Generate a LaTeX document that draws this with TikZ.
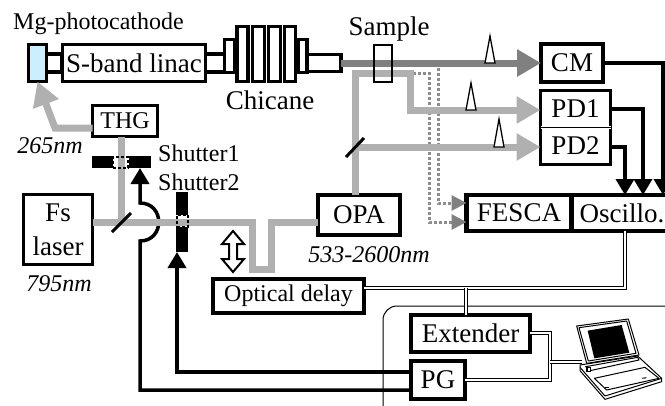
\documentclass[tikz,border=0pt]{standalone}
\usepackage{fontspec}
\setmainfont{Liberation Serif}
\usetikzlibrary{arrows.meta,calc}
\definecolor{lgray}{HTML}{B0B0B0}
\definecolor{dgray}{HTML}{808080}
\definecolor{cathblue}{HTML}{CCEEFF}
\tikzset{
  bx/.style={draw=black,line width=3.5pt,fill=white,inner sep=0pt,outer sep=0pt,align=center,font=\fontsize{27}{34}\selectfont},
  tb/.style={bx,fill=white},
  lbl/.style={inner sep=0pt,font=\fontsize{24}{24}\selectfont},
  lbig/.style={inner sep=0pt,font=\fontsize{27}{27}\selectfont},
  wl/.style={inner sep=0pt,font=\fontsize{24}{24}\selectfont\itshape},
  barb/.style={fill=black,inner sep=0pt,outer sep=0pt},
  lightbeam/.style={draw=lgray,line width=7pt,miter limit=10},
  darkbeam/.style={draw=dgray,line width=7pt},
  lh/.style={-{Triangle[length=24pt,width=26pt]}},
  sig/.style={draw=black,line width=3.5pt,-{Triangle[length=16pt,width=18pt]}},
  dbl/.style={draw=black,line width=1pt,double=white,double distance=1.2pt},
  dot/.style={draw=dgray!90,line width=3pt,dash pattern=on 3pt off 2pt,-{Triangle[length=15pt,width=15pt,color=dgray,fill=dgray]}},
  mirror/.style={draw=black,line width=3pt},
  pulse/.style={draw=black,line width=1.3pt,fill=white},
  win/.style={draw=black,line width=2pt,dash pattern=on 3pt off 2pt},
  lap/.style={draw=black,line width=1pt,fill=white,line join=round},
}
\begin{document}
\begin{tikzpicture}[x=1pt,y=-1pt]
\useasboundingbox (0,0) rectangle (665,405);
\clip (0,0) rectangle (665,405);
% outline of the computer area
\node[draw=black,line width=1pt,rounded corners=14pt,minimum width=320pt,minimum height=130pt,inner sep=0pt] (area) at (543,371) {};
% coordinates
\coordinate (m1) at (121,222);
\coordinate (m2) at (355,147);
\coordinate (top) at (355,73);
\coordinate (turn) at (410,73);
\coordinate (low) at (410,110);
\coordinate (ua) at (252,222);
\coordinate (ub) at (252,269);
\coordinate (uc) at (271,269);
\coordinate (ud) at (271,222);
\coordinate (elb) at (55,128);
\coordinate (c1a) at (140,203);
\coordinate (c1b) at (140,241);
\coordinate (c1c) at (140,390);
\coordinate (c2c) at (177,372);
\coordinate (dA) at (393,73);
\coordinate (dB) at (429,73);
\coordinate (dC) at (429,222);
\coordinate (dD) at (438,68);
\coordinate (dE) at (438,203);
\coordinate (dJ) at (466,288);
\coordinate (dK) at (625,288);
\coordinate (dL) at (550,333);
\coordinate (dM) at (550,380);
\coordinate (dN) at (550,362);
\coordinate (lapc) at (582,362);
\coordinate (r1) at (663,63);
\coordinate (r2) at (643,109);
\coordinate (r3) at (625,147);
% accelerator
\node[tb,minimum width=16pt,minimum height=18pt] (t1) at (54,63) {};
\node[tb,minimum width=20pt,minimum height=18pt] (t2) at (215,63) {};
\node[tb,minimum width=34pt,minimum height=17pt] (t3) at (324,63) {};
\node[bx,fill=cathblue,minimum width=18pt,minimum height=37pt] (cath) at (37.5,63) {};
\node[bx,minimum width=143pt,minimum height=37pt] (linac) at (134,63) {S-band linac};
\node[bx,minimum width=10pt,minimum height=33pt] (ch0) at (229.5,56) {};
\node[bx,minimum width=8.5pt,minimum height=33pt] (ch5) at (302.5,56) {};
\node[bx,minimum width=11pt,minimum height=55pt] (ch1) at (242.5,54) {};
\node[bx,minimum width=12pt,minimum height=55pt] (ch2) at (258.5,54) {};
\node[bx,minimum width=12pt,minimum height=55pt] (ch3) at (274.5,54) {};
\node[bx,minimum width=11pt,minimum height=55pt] (ch4) at (290,54) {};
% instruments
\node[bx,line width=4.5pt,minimum width=62pt,minimum height=38pt] (cm) at (572,63) {CM};
\node[bx,minimum width=70pt,minimum height=37pt] (pd1) at (575.5,109) {PD1};
\node[bx,minimum width=70pt,minimum height=37pt] (pd2) at (575.5,146) {PD2};
\draw[draw=white,line width=2.4pt] (pd1.south west) -- (pd1.south east);
\draw[draw=black,line width=1pt] (pd1.south west) -- (pd1.south east);
\node[bx,line width=4.5pt,minimum width=105pt,minimum height=36pt] (fesca) at (519,213) {FESCA};
\node[bx,line width=4.5pt,minimum width=100pt,minimum height=36pt] (osc) at (622,213) {Oscillo.};
\node[bx,line width=4.5pt,minimum width=82pt,minimum height=40pt] (opa) at (359,215) {OPA};
\node[bx,line width=4.5pt,minimum width=151pt,minimum height=34pt,font=\fontsize{24}{24}\selectfont] (delay) at (288.5,296) {Optical delay};
\node[bx,line width=4.5pt,minimum width=119pt,minimum height=37pt] (ext) at (470.5,333.5) {Extender};
\node[bx,line width=4.5pt,minimum width=54pt,minimum height=38pt] (pg) at (438,380) {PG};
\node[bx,font=\fontsize{24}{24}\selectfont,minimum width=65pt,minimum height=31pt] (thg) at (125,121) {THG};
\node[bx,minimum width=69pt,minimum height=70pt] (laser) at (58,229.5) {Fs\\laser};
% black signals (the curve runs under the beam)
\draw[sig] (pg.west |- c1c) -- (c1c) -- (c1b) .. controls (165,241) and (165,203) .. (c1a) -- (140,168);
% shutters
\node[barb,minimum width=21pt,minimum height=12pt] (s1l) at (102.5,162) {};
\node[barb,minimum width=22pt,minimum height=12pt] (s1r) at (140,162) {};
\node[barb,minimum width=12pt,minimum height=23pt] (s2t) at (182,203.5) {};
\node[barb,minimum width=12pt,minimum height=25pt] (s2b) at (182,239.5) {};
\draw[sig] (pg.west |- c2c) -- (c2c) -- (c2c |- s2b.south);
% beams
\draw[lightbeam] (laser.east |- m1) -- (ua) -- (ub) -- (uc) -- (ud) -- (opa.west |- ud);
\draw[lightbeam] (m1) -- (thg.south -| m1);
\draw[lightbeam,-{Triangle[length=24pt,width=26pt]}] (thg.west |- elb) -- (elb) -- (cath.south);
\draw[darkbeam,lh] (t3.east) -- (cm.west);
\draw[dot] (dD) -- (dE) -- (fesca.west |- dE);
\draw[dot] (dA) -- (dB) -- (dC) -- (fesca.west |- dC);
\draw[lightbeam,lh] (opa.north -| top) -- (top) -- (turn) -- (low) -- (pd1.west |- low);
\draw[lightbeam,lh] (m2) -- (pd2.west |- m2);
% shutter windows
\node[win,minimum width=15pt,minimum height=11pt,inner sep=0pt] (s1w) at (120.5,162) {};
\node[win,minimum width=11pt,minimum height=12pt,inner sep=0pt] (s2w) at (182,221) {};
% sample
\node[draw=black,line width=2.5pt,minimum width=18pt,minimum height=37pt,inner sep=0pt] (sample) at (383,63.5) {};
% mirrors
\draw[mirror] ([shift={(-9,10)}]m1) -- ([shift={(10,-9)}]m1);
\draw[mirror] ([shift={(-9,10)}]m2) -- ([shift={(9,-9)}]m2);
% pulses
\coordinate (p1) at (490,63);
\coordinate (p2) at (471,110);
\coordinate (p3) at (499,147);
\draw[pulse] ([shift={(-5,0)}]p1) -- ([shift={(0,-27)}]p1) -- ([shift={(5,0)}]p1) -- cycle;
\draw[pulse] ([shift={(-5,0)}]p2) -- ([shift={(0,-27)}]p2) -- ([shift={(5,0)}]p2) -- cycle;
\draw[pulse] ([shift={(-5,0)}]p3) -- ([shift={(0,-28)}]p3) -- ([shift={(5,0)}]p3) -- cycle;
% signals to the oscilloscope
\draw[sig] (cm.east |- r1) -- (r1) -- (r1 |- osc.north);
\draw[sig] (pd1.east |- r2) -- (r2) -- (r2 |- osc.north);
\draw[sig] (pd2.east |- r3) -- (r3) -- (r3 |- osc.north);
% double lines
\draw[dbl] (delay.east |- dK) -- (dK) -- (dK |- osc.south);
\draw[dbl] (dJ) -- (dJ |- ext.north);
\draw[dbl] (ext.east |- dL) -- (dL) -- (dM) -- (pg.east |- dM);
\draw[dbl] (dN) -- (lapc);
% movable delay arrow
\draw[draw=black,fill=white,line width=2pt,miter limit=3] (233,231) -- (244,244) -- (237,244) -- (237,259) -- (244,259) -- (233,272) -- (222,259) -- (229,259) -- (229,244) -- (222,244) -- cycle;
% laptop
\begin{scope}[shift={(565,310)},scale=1/3]
  \draw[lap] (45,165) -- (218,138) -- (290,205) -- (290,215) -- (120,268) -- (45,182) -- cycle;
  \draw[lap] (45,172) -- (120,258) -- (290,205);
  \draw[lap] (35,48) -- (190,27) -- (222,135) -- (65,160) -- cycle;
  \draw[lap] (42,53) -- (185,33) -- (213,130) -- (70,153) -- cycle;
  \fill[black] (68,62) -- (170,45) -- (193,128) -- (88,145) -- cycle;
  \draw[lap] (62,170) -- (218,142) -- (222,150) -- (75,182) -- cycle;
  \draw[lap] (88,205) -- (240,172) -- (282,205) -- (125,240) -- cycle;
  \draw[draw=black,line width=1pt] (120,232) -- (132,232);
  \draw[draw=black,line width=1pt] (232,205) -- (244,203);
  \draw[draw=black,fill=white,line width=1.2pt] (66,172) rectangle (76,184);
\end{scope}
% labels
\node[lbl] (lmg) at (98.5,24) {Mg-photocathode};
\node[lbig] (lch) at (270,100) {Chicane};
\node[lbig] (lsa) at (389,29) {Sample};
\node[lbl,anchor=west] (ls1) at (158,153) {Shutter1};
\node[lbl,anchor=west] (ls2) at (158,182) {Shutter2};
\node[wl] (l265) at (50,146) {265nm};
\node[wl] (l795) at (59,284) {795nm};
\node[wl] (l533) at (369,255) {533-2600nm};
\end{tikzpicture}
\end{document}
